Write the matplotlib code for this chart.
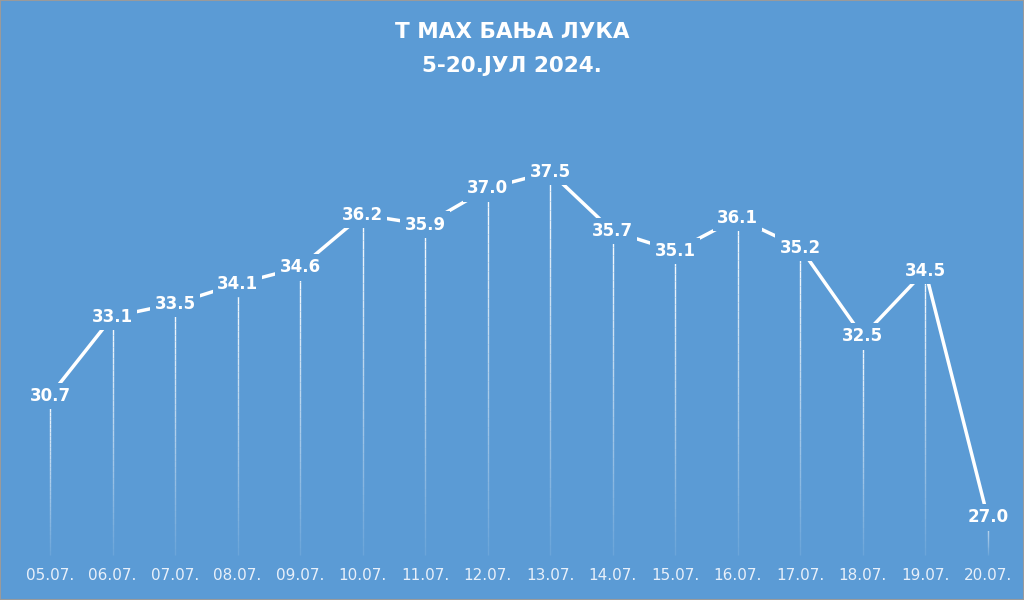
import matplotlib
matplotlib.use("Agg")
import matplotlib.pyplot as plt
import numpy as np

dates = ["05.07.", "06.07.", "07.07.", "08.07.", "09.07.", "10.07.", "11.07.", "12.07.",
         "13.07.", "14.07.", "15.07.", "16.07.", "17.07.", "18.07.", "19.07.", "20.07."]
tmax = [30.7, 33.1, 33.5, 34.1, 34.6, 36.2, 35.9, 37.0, 37.5, 35.7, 35.1, 36.1, 35.2, 32.5, 34.5, 27.0]

bg = "#5B9BD5"
fig = plt.figure(figsize=(10.24, 6.0), dpi=100, facecolor=bg)
ax = fig.add_axes([0, 0, 1, 1], facecolor=bg)
ymin = 24.49
ax.set_xlim(-0.8, 15.58)
ax.set_ylim(ymin, ymin + 600 / 32.9)
ax.axis("off")

x = np.arange(len(tmax))
base = ymin + 45 / 32.9
for xi, v in zip(x, tmax):
    n = 40
    ys = np.linspace(base, v, n + 1)
    for k in range(n):
        ax.plot([xi, xi], [ys[k], ys[k + 1]], color="white", lw=1.0,
                alpha=0.1 + 0.9 * (k / n), solid_capstyle="butt", zorder=1)

ax.plot(x, tmax, color="white", lw=2.5, zorder=2)
for xi, v in zip(x, tmax):
    ax.text(xi, v, f"{v:.1f}", color="white", fontsize=12, fontweight="bold",
            ha="center", va="center", zorder=3,
            bbox=dict(boxstyle="square,pad=0.25", facecolor=bg, edgecolor="none"))

for xi, d in zip(x, dates):
    ax.text(xi, ymin + 24 / 32.9, d, color="#E8F0FA", fontsize=11,
            ha="center", va="center")

fig.text(0.5, 1 - 32 / 600, "Т МАХ БАЊА ЛУКА", color="white", fontsize=15.5,
         fontweight="bold", ha="center", va="center")
fig.text(0.5, 1 - 66 / 600, "5-20.ЈУЛ 2024.", color="white", fontsize=15.5,
         fontweight="bold", ha="center", va="center")

fig.patches.append(plt.Rectangle((0, 0), 1, 1, transform=fig.transFigure,
                                 fill=False, edgecolor="#9A9A9A", lw=1.5))
fig.savefig("out.png", dpi=100, facecolor=bg)
